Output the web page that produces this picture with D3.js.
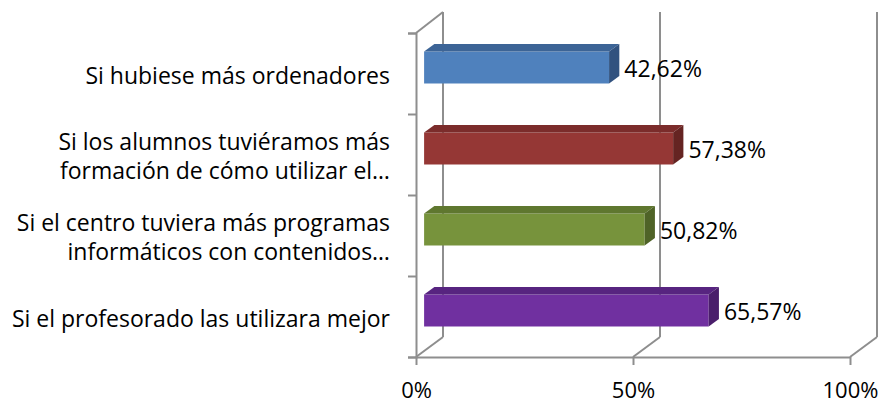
<!DOCTYPE html>
<html lang="es">
<head>
<meta charset="utf-8">
<title>Gráfico</title>
<script src="https://cdnjs.cloudflare.com/ajax/libs/d3/7.8.5/d3.min.js"></script>
<style>
  body { margin: 0; background: #fff; }
  svg text { font-family: "Open Sans", Lato, sans-serif; fill: #000; }
</style>
</head>
<body>
<div id="chart"></div>
<script>
// categories (each one split in lines as in the picture)
var categories = [
  ["Si hubiese más ordenadores"],
  ["Si los alumnos tuviéramos más", "formación de cómo utilizar el…"],
  ["Si el centro tuviera más programas", "informáticos con contenidos…"],
  ["Si el profesorado las utilizara mejor"]
];
var values = [42.62, 57.38, 50.82, 65.57];
var tickValues = [0, 50, 100];
var tickLabels = ["0%", "50%", "100%"];
var colors = [
  { front: "#4f81bd", top: "#3c6496", side: "#31527f" },
  { front: "#953735", top: "#7b2c2b", side: "#652422" },
  { front: "#77933c", top: "#5f772f", side: "#4f6327" },
  { front: "#7030a0", top: "#572480", side: "#4a1e6b" }
];

var width = 882, height = 403;
var depthX = 27, depthY = 20;      // floor depth offset
var f0 = 0.3, f1 = 0.68;           // bar depth position

var svg = d3.select("#chart").append("svg")
  .attr("width", width)
  .attr("height", height);

var x = d3.scaleLinear().domain([0, 100]).range([416, 850]);
var y = d3.scaleBand().domain(d3.range(categories.length)).range([33, 357]).paddingInner(0);
var yTicks = d3.scaleLinear().domain([0, categories.length]).range([357, 33]);

var gridColor = "#8e8e8e";

// back wall vertical gridlines
svg.append("g").selectAll("line")
  .data(tickValues)
  .enter().append("line")
  .attr("x1", function(d) { return x(d) + depthX; })
  .attr("x2", function(d) { return x(d) + depthX; })
  .attr("y1", 33 - depthY - 1)
  .attr("y2", 357 - depthY)
  .attr("stroke", gridColor)
  .attr("stroke-width", 2);

// floor diagonals
svg.append("g").selectAll("line")
  .data(tickValues)
  .enter().append("line")
  .attr("x1", function(d) { return x(d); })
  .attr("y1", 357)
  .attr("x2", function(d) { return x(d) + depthX; })
  .attr("y2", 357 - depthY)
  .attr("stroke", gridColor)
  .attr("stroke-width", 2);

// top of the left wall
svg.append("line")
  .attr("x1", x(0)).attr("y1", 33)
  .attr("x2", x(0) + depthX).attr("y2", 33 - depthY - 1)
  .attr("stroke", gridColor)
  .attr("stroke-width", 2);

// left axis
var yAxis = svg.append("g")
  .attr("transform", "translate(" + x(0) + ",0)")
  .call(d3.axisLeft(yTicks).ticks(categories.length).tickSize(8).tickSizeOuter(8).tickFormat(""));

// bottom axis
var xAxis = svg.append("g")
  .attr("transform", "translate(0,357)")
  .call(d3.axisBottom(x).tickValues(tickValues).tickSize(8).tickSizeOuter(0)
    .tickFormat(function(d, i) { return tickLabels[i]; }));

svg.selectAll(".domain, .tick line")
  .attr("stroke", gridColor)
  .attr("stroke-width", 2);

xAxis.selectAll("text")
  .attr("y", 41)
  .attr("dy", 0)
  .style("font-size", "22px")
  .style("font-family", "'Open Sans', sans-serif")
  .attr("fill", "#000");

// category labels
var lineGap = 29;
var labels = svg.append("g").selectAll("text")
  .data(categories)
  .enter().append("text")
  .attr("text-anchor", "end")
  .style("font-size", "23px");

labels.each(function(lines, i) {
  var cy = y(i) + y.bandwidth() / 2 + 2;
  var start = cy - (lines.length - 1) * lineGap / 2;
  d3.select(this).selectAll("tspan")
    .data(lines)
    .enter().append("tspan")
    .attr("x", 390)
    .attr("y", function(d, j) { return start + j * lineGap; })
    .attr("dy", "0.35em")
    .text(function(d) { return d; });
});

// 3d bars
var barH = y.bandwidth() * 0.395;
var ox = f0 * depthX, oy = f0 * depthY;
var ddx = (f1 - f0) * depthX, ddy = (f1 - f0) * depthY;

var bars = svg.append("g").selectAll("g")
  .data(values)
  .enter().append("g");

bars.each(function(v, i) {
  var g = d3.select(this);
  var x0 = x(0) + ox, x1 = x(v) + ox;
  var cy = y(i) + y.bandwidth() / 2 - oy;
  var y0 = cy - barH / 2, y1 = cy + barH / 2;
  g.append("rect")
    .attr("x", x0).attr("y", y0)
    .attr("width", x1 - x0).attr("height", y1 - y0)
    .attr("fill", colors[i].front);
  g.append("path")
    .attr("d", "M" + x0 + "," + y0 + "L" + (x0 + ddx) + "," + (y0 - ddy) +
      "L" + (x1 + ddx) + "," + (y0 - ddy) + "L" + x1 + "," + y0 + "Z")
    .attr("fill", colors[i].top);
  g.append("path")
    .attr("d", "M" + x1 + "," + y0 + "L" + (x1 + ddx) + "," + (y0 - ddy) +
      "L" + (x1 + ddx) + "," + (y1 - ddy) + "L" + x1 + "," + y1 + "Z")
    .attr("fill", colors[i].side);
});

// value labels
var locale = d3.formatLocale({ decimal: ",", thousands: ".", grouping: [3], currency: ["", "€"] });
var fmt = locale.format(".2f");

svg.append("g").selectAll("text")
  .data(values)
  .enter().append("text")
  .attr("x", function(d) { return x(d) + ox + ddx + 5; })
  .attr("y", function(d, i) { return y(i) + y.bandwidth() / 2 - oy + 1; })
  .attr("dy", "0.35em")
  .style("font-size", "23px")
  .text(function(d) { return fmt(d) + "%"; });
</script>
</body>
</html>
